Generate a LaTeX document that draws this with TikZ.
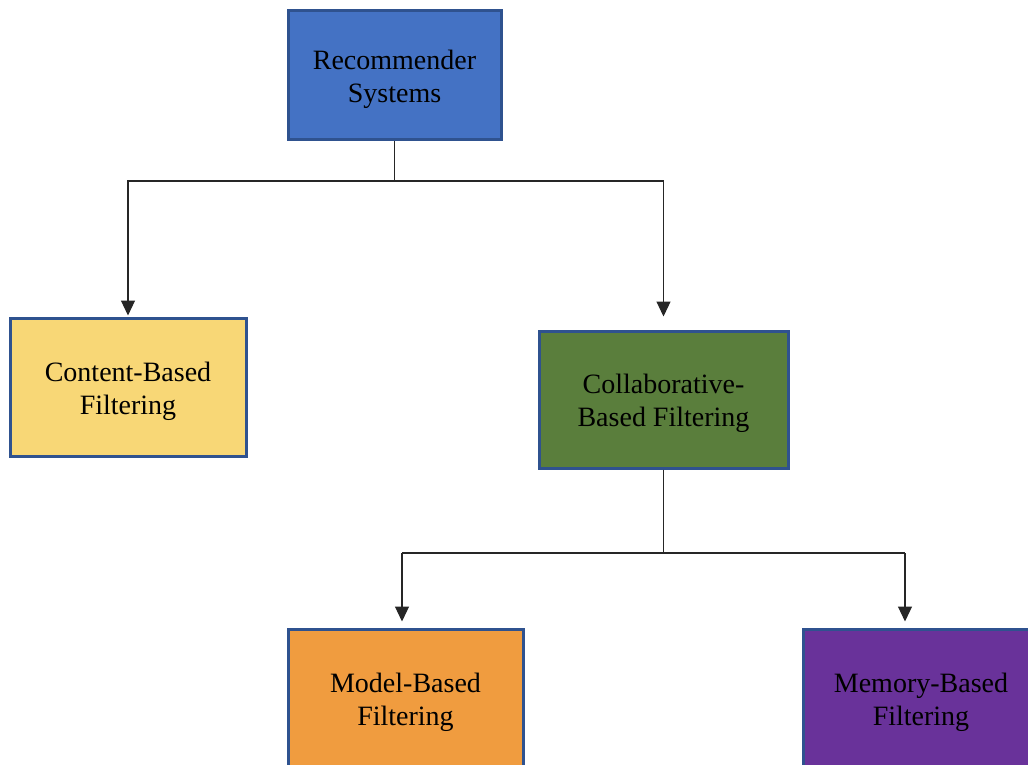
\documentclass[tikz,border=0pt]{standalone}
\usepackage{fontspec}
\setmainfont{Liberation Serif}
\usepackage{tikz}
\usetikzlibrary{
    calc,
    arrows.meta,
    positioning
}
\definecolor{rsblue}{HTML}{4472C4}
\definecolor{cbyellow}{HTML}{F8D776}
\definecolor{colgreen}{HTML}{5A7E3C}
\definecolor{mborange}{HTML}{F09C3F}
\definecolor{mempurple}{HTML}{69329A}
\definecolor{boxedge}{HTML}{2F528F}
\tikzset{
    catbox/.style={
        draw=boxedge,
        line width=3pt,
        rectangle,
        inner sep=0pt
    },
    cattext/.style={
        align=center,
        inner sep=0pt,
        yshift=-4pt,
        font=\fontsize{28}{33}\selectfont
    },
    link/.style={line width=1.2pt, draw=black!85},
    arr/.style={link, -{Triangle[width=14pt,length=15pt]}}
}

\begin{document}
\begin{tikzpicture}[x=1pt,y=-1pt]
    \useasboundingbox (0,0) rectangle (1028,765);
    \clip (0,0) rectangle (1028,765);
    % category boxes
    \node[catbox, fill=rsblue, minimum width=213pt, minimum height=129pt,
        label={[cattext]center:Recommender\\Systems}] (rs) at (394.5,75.5) {};
    \node[catbox, fill=cbyellow, minimum width=236pt, minimum height=138pt,
        label={[cattext]center:Content-Based\\Filtering}] (cb) at (128,387) {};
    \node[catbox, fill=colgreen, minimum width=249pt, minimum height=137pt,
        label={[cattext]center:Collaborative-\\Based Filtering}] (col) at (663.5,399.5) {};
    \node[catbox, fill=mborange, minimum width=235pt, minimum height=138pt,
        label={[cattext]center:Model-Based\\Filtering}] (mb) at (405.5,698) {};
    \node[catbox, fill=mempurple, minimum width=236pt, minimum height=138pt,
        label={[cattext]center:Memory-Based\\Filtering}] (mem) at (921,698) {};
    % first level
    \coordinate (j1) at (394.5,181);
    \draw[link] (rs.south) -- (j1);
    \draw[arr, shorten >=1pt] (j1) -| (cb.north);
    \draw[arr, shorten >=13pt] (j1) -| (col.north);
    % second level
    \coordinate (j2) at (663.5,553);
    \coordinate (l2) at (402,553);
    \coordinate (r2) at (905,553);
    \draw[link] (col.south) -- (j2);
    \draw[link] (l2) -- (r2);
    \draw[arr, shorten >=6pt] (l2) -- (l2 |- mb.north);
    \draw[arr, shorten >=6pt] (r2) -- (r2 |- mem.north);
\end{tikzpicture}
\end{document}
